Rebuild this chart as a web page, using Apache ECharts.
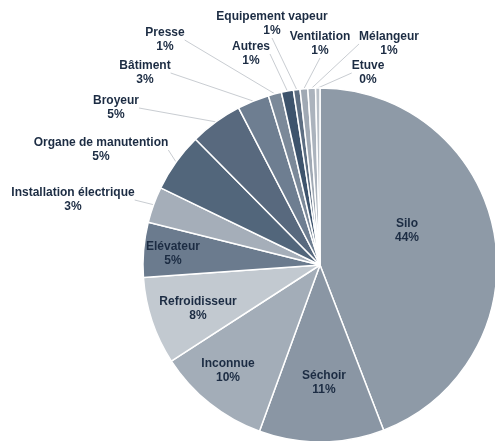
<!DOCTYPE html>
<html>
<head>
<meta charset="utf-8">
<script src="https://cdn.jsdelivr.net/npm/echarts@6/dist/echarts.min.js"></script>
<style>
html, body { margin: 0; padding: 0; background: #fff; }
#main { width: 495px; height: 441px; }
</style>
</head>
<body>
<div id="main"></div>
<script>
// categories et parts (en %), dans le sens horaire depuis midi
var categories = ['Silo', 'Séchoir', 'Inconnue', 'Refroidisseur', 'Elévateur', 'Installation électrique',
	'Organe de manutention', 'Broyeur', 'Bâtiment', 'Presse', 'Autres', 'Equipement vapeur',
	'Ventilation', 'Mélangeur', 'Etuve'];
var values = [44.1, 11.4, 10.3, 8.0, 5.0, 3.3, 5.4, 4.8, 2.9, 1.2, 1.1, 0.6, 0.7, 0.7, 0.4];
var colors = ['#8e9aa7', '#8a96a4', '#a3adb8', '#c2c9d0', '#6b7b8e', '#a5aeb9', '#52667b', '#58697e',
	'#6e7e91', '#7b8999', '#3d536c', '#5d6e82', '#a0a9b4', '#abb3bd', '#b9c0c8'];

// position des étiquettes (centre du bloc de texte) et étiquettes intérieures
var labelPos = {
	'Silo': [407, 231, true],
	'Séchoir': [324, 383, true],
	'Inconnue': [228, 371, true],
	'Refroidisseur': [198, 309, true],
	'Elévateur': [173, 254, true],
	'Installation électrique': [73, 200, false],
	'Organe de manutention': [101, 150, false],
	'Broyeur': [116, 108, false],
	'Bâtiment': [145, 73, false],
	'Presse': [165, 40, false],
	'Autres': [251, 54, false],
	'Equipement vapeur': [272, 24, false],
	'Ventilation': [320, 44, false],
	'Mélangeur': [389, 44, false],
	'Etuve': [368, 73, false]
};

var total = values.reduce(function (a, b) { return a + b; }, 0);

var pieData = categories.map(function (name, i) {
	var item = { name: name, value: values[i], itemStyle: { color: colors[i] } };
	if (labelPos[name][2]) {
		item.label = { position: 'inside' };
		item.labelLine = { show: false };
	}
	return item;
});

var myChart = echarts.init(document.getElementById('main'));
option = {
	backgroundColor: '#fff',
	animation: false,
	series: [{
		type: 'pie',
		center: [320, 265],
		radius: 177,
		startAngle: 90,
		clockwise: true,
		avoidLabelOverlap: false,
		itemStyle: {
			borderColor: '#fff',
			borderWidth: 1.5
		},
		label: {
			show: true,
			position: 'outside',
			fontFamily: 'Liberation Sans',
			fontWeight: 'bold',
			fontSize: 12,
			lineHeight: 14,
			color: '#1c2c43',
			formatter: function (p) {
				return p.name + '\n' + Math.round(p.value / total * 100) + '%';
			}
		},
		labelLine: {
			show: true,
			length: 10,
			length2: 0,
			lineStyle: { color: '#c9cdd2', width: 1 }
		},
		labelLayout: function (params) {
			var pos = labelPos[categories[params.dataIndex]];
			return {
				x: pos[0],
				y: pos[1],
				align: 'center',
				verticalAlign: 'middle'
			};
		},
		data: pieData
	}]
};
myChart.setOption(option);
</script>
</body>
</html>
